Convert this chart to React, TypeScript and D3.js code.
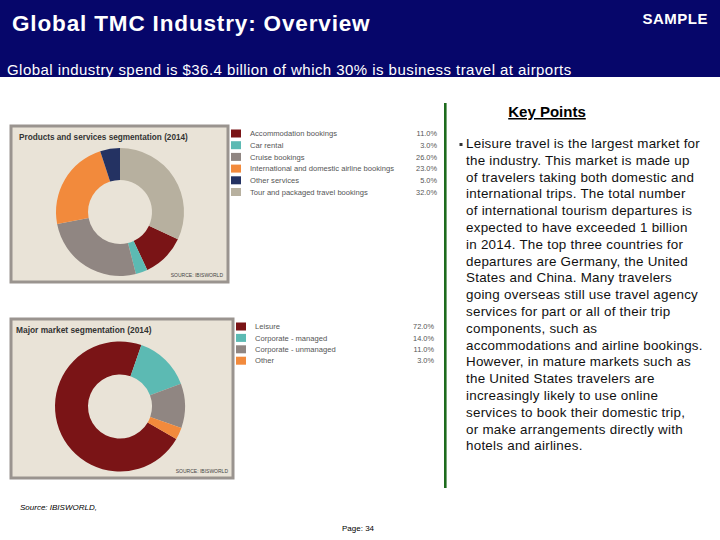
import React from "react";
import * as d3 from "d3";

const productLabels = [
  "Accommodation bookings",
  "Car rental",
  "Cruise bookings",
  "International and domestic airline bookings",
  "Other services",
  "Tour and packaged travel bookings",
];
const productValues = [11.0, 3.0, 26.0, 23.0, 5.0, 32.0];
const productColors = ["#7a1416", "#5cbab3", "#908682", "#f28a3c", "#243262", "#b7b09f"];

const marketLabels = ["Leisure", "Corporate - managed", "Corporate - unmanaged", "Other"];
const marketValues = [72.0, 14.0, 11.0, 3.0];
const marketColors = ["#7a1416", "#5cbab3", "#908682", "#f28a3c"];

const keyPointLines = [
  "Leisure travel is the largest market for",
  "the industry. This market is made up",
  "of travelers taking both domestic and",
  "international trips. The total number",
  "of international tourism departures is",
  "expected to have exceeded 1 billion",
  "in 2014. The top three countries for",
  "departures are Germany, the United",
  "States and China. Many travelers",
  "going overseas still use travel agency",
  "services for part or all of their trip",
  "components, such as",
  "accommodations and airline bookings.",
  "However, in mature markets such as",
  "the United States travelers are",
  "increasingly likely to use online",
  "services to book their domestic trip,",
  "or make arrangements directly with",
  "hotels and airlines.",
];

type DonutProps = {
  x: number; y: number; w: number; h: number;
  title: string; titleX: number; titleSize: number;
  labels: string[]; values: number[]; colors: string[];
  cx: number; cy: number; rOuter: number; rInner: number; startAngle: number;
  legendX: number; legendY: number; legendStep: number; pctRight: number;
};

function DonutPanel(p: DonutProps) {
  const pie = d3.pie<number>().sort(null).value((d) => d)
    .startAngle(p.startAngle).endAngle(p.startAngle + 2 * Math.PI);
  const arcs = pie(p.values);
  const arc = d3.arc<d3.PieArcDatum<number>>().innerRadius(p.rInner).outerRadius(p.rOuter);
  return (
    <g>
      <rect x={p.x} y={p.y} width={p.w} height={p.h} fill="#e9e3d7" stroke="#9a948f" strokeWidth={3} />
      <text x={p.titleX} y={p.y + 14} fontSize={p.titleSize} fontWeight="bold" fill="#333">{p.title}</text>
      <g transform={`translate(${p.cx},${p.cy})`}>
        {arcs.map((a, i) => (
          <path key={i} d={arc(a) || ""} fill={p.colors[i]} />
        ))}
      </g>
      <text x={p.x + p.w - 5} y={p.y + p.h - 5} fontSize={5} textAnchor="end" fill="#444">SOURCE: IBISWORLD</text>
      {p.labels.map((l, i) => {
        const yy = p.legendY + i * p.legendStep;
        return (
          <g key={l}>
            <rect x={p.legendX} y={yy - 4} width={10} height={8} fill={p.colors[i]} />
            <text x={p.legendX + 19} y={yy + 2.7} fontSize={7.6} fill="#555">{l}</text>
            <text x={p.pctRight} y={yy + 2.7} fontSize={7.4} fill="#555" textAnchor="end">{p.values[i].toFixed(1)}%</text>
          </g>
        );
      })}
    </g>
  );
}

export default function App() {
  const font = "Liberation Sans, Arial, sans-serif";
  return (
    <svg width={720} height={540} style={{ position: "absolute", left: 0, top: 0, background: "#fff" }} fontFamily={font}>
      <rect x={0} y={0} width={720} height={540} fill="#ffffff" />
      <rect x={0} y={0} width={720} height={77} fill="#06066a" />
      <text x={12} y={31} fontSize={22.5} fontWeight="bold" fill="#fff" letterSpacing={0.85}>Global TMC Industry: Overview</text>
      <text x={708} y={24} fontSize={15} fontWeight="bold" fill="#fff" textAnchor="end" letterSpacing={0.5}>SAMPLE</text>
      <text x={7} y={74.5} fontSize={15} fill="#fff" letterSpacing={0.45}>Global industry spend is $36.4 billion of which 30% is business travel at airports</text>

      <DonutPanel x={11} y={126} w={217} h={156} title="Products and services segmentation (2014)" titleX={19} titleSize={8.2}
        labels={productLabels} values={productValues} colors={productColors}
        cx={120} cy={212} rOuter={64} rInner={32} startAngle={2 * Math.PI * 0.32}
        legendX={231} legendY={133.5} legendStep={11.7} pctRight={437} />

      <DonutPanel x={11} y={319} w={222} h={159} title="Major market segmentation (2014)" titleX={16} titleSize={8.4}
        labels={marketLabels} values={marketValues} colors={marketColors}
        cx={120} cy={406.5} rOuter={65} rInner={32} startAngle={(2 * Math.PI) / 3}
        legendX={236} legendY={326.5} legendStep={11.4} pctRight={434} />

      <line x1={445.3} x2={445.3} y1={103} y2={488} stroke="#1d6b1d" strokeWidth={2.6} />
      <text x={547} y={117} fontSize={15} fontWeight="bold" textAnchor="middle" fill="#000" textDecoration="underline">Key Points</text>
      <rect x={459.5} y={143} width={3} height={3} fill="#333" />
      {keyPointLines.map((l, i) => (
        <text key={i} x={466} y={148 + i * 16.8} fontSize={13.4} fill="#111" letterSpacing={0.25}>{l}</text>
      ))}

      <text x={20} y={510} fontSize={8} fontStyle="italic" fill="#000">Source: IBISWORLD,</text>
      <text x={342} y={531} fontSize={8} fill="#000">Page: 34</text>
    </svg>
  );
}
